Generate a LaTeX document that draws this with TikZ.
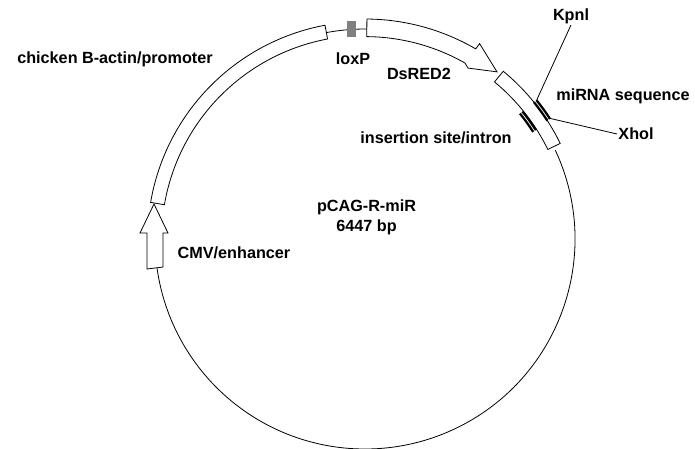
\documentclass[tikz,border=0pt]{standalone}
\usepackage{fontspec}
\setmainfont{Liberation Sans}
\usepackage{xcolor}
\newcommand*{\Rad}{210}
\definecolor{loxgray}{RGB}{128,128,128}

\begin{document}
\begin{tikzpicture}[x=1pt, y=1pt, line width=0.8pt,
    lbl/.style={font=\fontsize{16.2}{19}\selectfont\bfseries, inner sep=1pt},
    site/.style={line width=2.4pt, draw=black, double=white, double distance=0.7pt}]
    \useasboundingbox (-365,-209) rectangle (330,239);
    % backbone
    \draw (25:\Rad) arc[start angle=25, end angle=-172, radius=\Rad];
    \draw (100.6:\Rad) arc[start angle=100.6, end angle=89.5, radius=\Rad];
    % CMV/enhancer
    \draw (-211,35) -- (-197,6) -- (-202,6) -- (-202,-28) -- (-218,-30) -- (-218,6) -- (-225,6) -- cycle;
    % chicken B-actin/promoter
    \draw (170.3:217.5) arc[start angle=170.3, end angle=100.6, radius=217.5]
        -- (100.6:203.5) arc[start angle=100.6, end angle=170.3, radius=203.5] -- cycle;
    % loxP
    \fill[loxgray] (-18,202) rectangle (-9,218);
    % DsRED2
    \draw (89.5:220) arc[start angle=89.5, end angle=59.8, radius=220]
        -- (59.6:226.5) -- (51.7:213) -- (58.9:199.6) -- (60.4:202.4)
        arc[start angle=60.4, end angle=89.5, radius=202.4] -- cycle;
    % insertion site/intron
    \draw (50.5:217.4) arc[start angle=50.5, end angle=26.1, radius=217.4]
        -- (26.1:203.6) arc[start angle=26.1, end angle=50.5, radius=203.6] -- cycle;
    \draw[site] (39:219) arc[start angle=39, end angle=33, radius=219];
    \draw[site] (39:201) arc[start angle=39, end angle=32.5, radius=201];
    \coordinate (kpnsite) at (39:221);
    \coordinate (xhosite) at (33.5:219.4);
    % labels
    \node[lbl] (chicken) at (-250,180) {chicken B-actin/promoter};
    \node[lbl] (lox) at (-12,180) {loxP};
    \node[lbl] (dsred) at (54,165) {DsRED2};
    \node[lbl] (kpn) at (206,223) {Kpnl};
    \node[lbl] (mirna) at (258,143) {miRNA sequence};
    \node[lbl] (xho) at (271,105) {Xhol};
    \node[lbl] (intron) at (71,101) {insertion site/intron};
    \node[lbl, align=center] (plasmid) at (1.5,22) {pCAG-R-miR\\[1pt]6447 bp};
    \node[lbl] (cmv) at (-131,-14) {CMV/enhancer};
    \draw (kpn.south) -- (kpnsite);
    \draw (xhosite) -- (xho.west);
\end{tikzpicture}
\end{document}
